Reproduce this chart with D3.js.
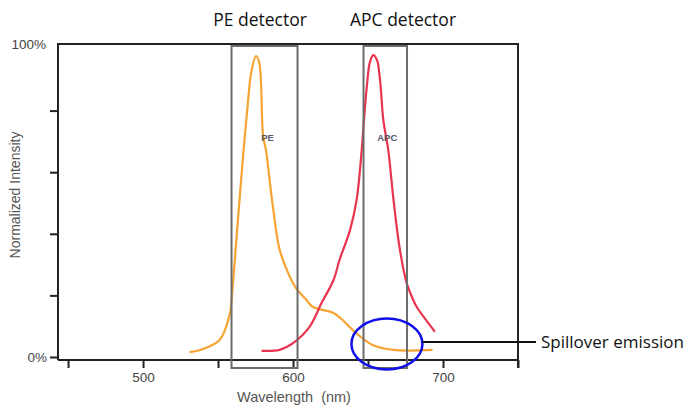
<!DOCTYPE html>
<html>
<head>
<meta charset="utf-8">
<script src="https://cdn.jsdelivr.net/npm/d3@7"></script>
<style>
  body { margin: 0; background: #fff; }
  svg { display: block; }
  .axis path { display: none; }
  .axis line { stroke: #222; stroke-width: 2; }
  .axis text { fill: #444; font-family: Arial, "Liberation Sans", sans-serif; font-size: 13.5px; }
</style>
</head>
<body>
<div class="chart"></div>
<script>
// Data (wavelength nm, normalized intensity %)
const peWave = [531, 538, 551, 558, 559, 563, 567, 570, 572, 575.3, 577.5, 580, 582, 586, 591, 597, 602, 609, 613, 627, 633, 642, 653, 667, 693];
const peInt  = [1.6, 2.3, 5.5, 14.3, 18.5, 43, 67, 83, 92, 97.7, 95.5, 72, 67, 51, 35, 27, 22.4, 18.5, 16.3, 14.3, 12, 7.8, 3.9, 2.3, 2.3];
const apcWave = [579, 591, 600, 611, 619, 627, 631, 638, 642.4, 645.8, 647.3, 649.3, 651.3, 653.5, 656, 658, 660.2, 663.5, 667, 671.3, 675.8, 680.2, 682.4, 694.6];
const apcInt  = [2.0, 2.3, 4.5, 9.8, 17.5, 25, 31.5, 41.2, 51, 67.2, 77, 88.3, 95.8, 98, 96.4, 90, 77, 67.2, 51, 34.7, 24, 18.5, 16.3, 8.2];
const detectorNames = ["PE", "APC"];
const detectorBands = [[559, 603], [647, 676]];
const xTicks = [450, 500, 550, 600, 650, 700, 750];
const xLabels = [500, 600, 700];
const yTicks = [0, 20, 40, 60, 80];
const spill = {wave: 662.6, level: 4.2};

// Dimensions
const W = 689, H = 408;
const plot = {left: 58, right: 518, top: 44, bottom: 360};

// Scales
const xScale = d3.scaleLinear().domain([443.3, 750]).range([plot.left, plot.right]);
const yScale = d3.scaleLinear().domain([0, 100]).range([plot.bottom - 3, plot.top + 5]);

const svg = d3.select(".chart").append("svg")
    .attr("width", W)
    .attr("height", H);

// Axes
svg.append("g")
    .attr("class", "axis x")
    .attr("transform", "translate(0," + plot.bottom + ")")
    .call(d3.axisBottom(xScale).tickValues(xTicks).tickSize(8).tickPadding(4)
      .tickFormat(d => xLabels.includes(d) ? d : ""));

svg.append("g")
    .attr("class", "axis y")
    .attr("transform", "translate(" + plot.left + ",0)")
    .call(d3.axisLeft(yScale).tickValues(yTicks).tickSize(8).tickPadding(3)
      .tickFormat(d => d === 0 ? "0%" : ""));

svg.append("text")
    .attr("x", plot.left - 12).attr("y", plot.top)
    .attr("dy", "0.35em")
    .attr("text-anchor", "end")
    .attr("fill", "#444")
    .style("font", "13.5px Arial, sans-serif")
    .text("100%");

// Frame
svg.append("path")
    .attr("d", `M${plot.left},${plot.bottom}V${plot.top}H${plot.right}V${plot.bottom + 8}M${plot.left},${plot.bottom}H${plot.right}`)
    .attr("fill", "none")
    .attr("stroke", "#222")
    .attr("stroke-width", 2);

// Axis titles
svg.append("text")
    .attr("x", 294).attr("y", 402)
    .attr("text-anchor", "middle")
    .attr("fill", "#555")
    .style("font", "14.5px Arial, sans-serif")
    .style("white-space", "pre")
    .text("Wavelength  (nm)");

svg.append("text")
    .attr("transform", "translate(20,195) rotate(-90)")
    .attr("text-anchor", "middle")
    .attr("fill", "#555")
    .style("font", "14px Arial, sans-serif")
    .text("Normalized Intensity");

// Curves
const line = d3.line()
    .x(d => xScale(d[0]))
    .y(d => yScale(d[1]))
    .curve(d3.curveCatmullRom.alpha(0.5));

svg.append("path")
    .datum(d3.zip(peWave, peInt))
    .attr("d", line)
    .attr("fill", "none")
    .attr("stroke", "#f5a331")
    .attr("stroke-width", 2.2);

svg.append("path")
    .datum(d3.zip(apcWave, apcInt))
    .attr("d", line)
    .attr("fill", "none")
    .attr("stroke", "#e8344e")
    .attr("stroke-width", 2.2);

// Detector boxes
detectorBands.forEach((b, i) => {
  svg.append("rect")
      .attr("x", xScale(b[0]))
      .attr("y", plot.top + 2)
      .attr("width", xScale(b[1]) - xScale(b[0]))
      .attr("height", plot.bottom + 8 - plot.top - 2)
      .attr("fill", "none")
      .attr("stroke", "#6b6b6b")
      .attr("stroke-width", 2);

  svg.append("text")
      .attr("x", (xScale(b[0]) + xScale(b[1])) / 2 + (i === 0 ? 3 : 2))
      .attr("y", 141)
      .attr("text-anchor", "middle")
      .attr("fill", "#55556a")
      .style("font", "bold 9.5px Arial, sans-serif")
      .text(detectorNames[i]);

  svg.append("text")
      .attr("x", i === 0 ? 260 : 403)
      .attr("y", 26)
      .attr("text-anchor", "middle")
      .attr("fill", "#111")
      .style("font", "17.5px 'Open Sans', sans-serif")
      .text(detectorNames[i] + " detector");
});

// Spillover callout
const cx = xScale(spill.wave), cy = yScale(spill.level);
svg.append("ellipse")
    .attr("cx", cx).attr("cy", cy)
    .attr("rx", 35.5).attr("ry", 25.5)
    .attr("fill", "none")
    .attr("stroke", "#1010e8")
    .attr("stroke-width", 2.5);

svg.append("line")
    .attr("x1", cx + 35.5).attr("x2", 536)
    .attr("y1", cy - 2).attr("y2", cy - 2)
    .attr("stroke", "#111")
    .attr("stroke-width", 2);

svg.append("text")
    .attr("x", 541).attr("y", cy - 2)
    .attr("dy", "0.35em")
    .attr("fill", "#111")
    .style("font", "17px 'Open Sans', sans-serif")
    .text("Spillover emission");
</script>
</body>
</html>
